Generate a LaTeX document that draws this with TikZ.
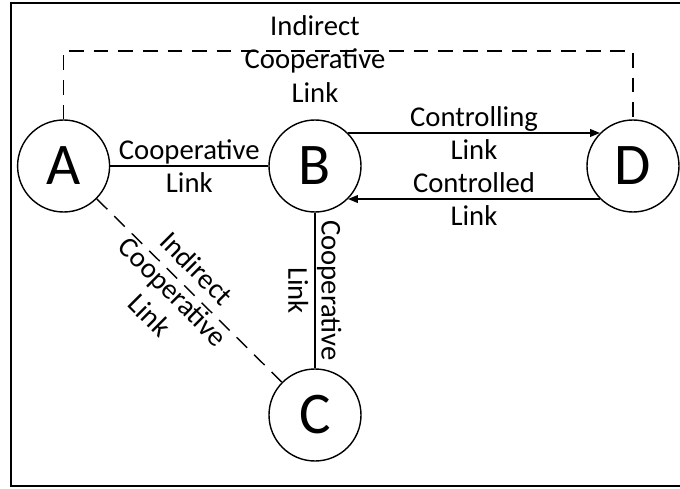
\documentclass[tikz,border=0pt]{standalone}
\usepackage{fontspec}
\setmainfont{Carlito}
\usepackage{tikz}
\usetikzlibrary{arrows.meta, positioning, calc}

\begin{document}
\begin{tikzpicture}[
    agent/.style={draw, circle, line width=1pt, minimum size=2.3cm, inner sep=0pt, font=\fontsize{42}{42}\selectfont},
    link/.style={line width=1pt},
    ctrl/.style={-{Triangle[length=7pt, width=5.5pt]}, line width=1pt},
    indirect/.style={line width=1pt, dash pattern=on 10.5pt off 7pt},
    linktext/.style={font=\fontsize{20.4}{23.6}\selectfont, align=center, inner sep=0pt},
]
    \useasboundingbox (0, 0) rectangle (17, 12.2);

    % Frame
    \draw[line width=1.5pt] (17, 12.125) -- (0.275, 12.125) -- (0.275, 0.05) -- (17, 0.05);

    % Agents
    \node[agent] (A) at (1.59, 8.05) {A};
    \node[agent] (B) at (7.875, 8.05) {B};
    \node[agent] (D) at (15.825, 8.05) {D};
    \node[agent] (C) at (7.875, 1.825) {C};
    \coordinate (topmid) at (7.875, 10.925);

    % Direct links
    \draw[link] (A) -- node[linktext] {Cooperative\\Link} (B);
    \draw[link] (B) -- node[linktext, rotate=-90] {Cooperative\\Link} (C);
    \draw[ctrl] (B.45) -- node[linktext] {Controlling\\Link} (D.135);
    \draw[ctrl] (D.-135) -- node[linktext] {Controlled\\Link} (B.-45);

    % Indirect links
    \draw[indirect] (A.north) |- (topmid) -| (D.north);
    \node[linktext] (topText) at ($(topmid)+(0, -0.2)$) {Indirect\\Cooperative\\Link};
    \draw[indirect] (A) -- (C);
    \node[linktext, rotate=-45] (diagText) at ($(A.center)!0.47!(C.center)!0.3cm!-90:(C.center)$) {Indirect\\Cooperative\\Link};

\end{tikzpicture}
\end{document}
